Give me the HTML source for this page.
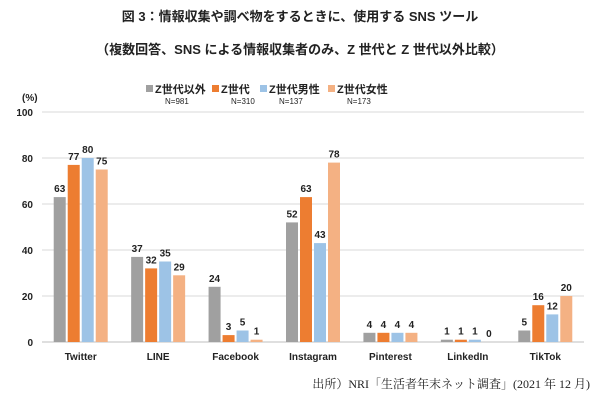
<!DOCTYPE html>
<html><head><meta charset="utf-8"><style>
body{margin:0;background:#fff;width:600px;height:404px;overflow:hidden}
svg text{font-family:"Liberation Sans","Noto Sans CJK JP",sans-serif}
</style></head><body>
<svg id="chart" width="600" height="404">
<text x="300" y="21" text-anchor="middle" font-size="13" font-weight="bold" fill="#222">図 3：情報収集や調べ物をするときに、使用する SNS ツール</text>
<text x="300" y="54" text-anchor="middle" font-size="13" font-weight="bold" fill="#222">（複数回答、SNS による情報収集者のみ、Z 世代と Z 世代以外比較）</text>
<text x="22" y="101" font-size="10" font-weight="bold" fill="#222">(%)</text>
<g id="grid"></g><g id="bars"></g><g id="legend"></g>
<text x="590" y="388" text-anchor="end" font-size="12" fill="#222" style="font-family:'Liberation Serif','Noto Serif CJK SC',serif">出所）NRI「生活者年末ネット調査」(2021 年 12 月)</text>
</svg>
<script>
const categories=["Twitter","LINE","Facebook","Instagram","Pinterest","LinkedIn","TikTok"];
const seriesNames=["Z世代以外","Z世代","Z世代男性","Z世代女性"];
const seriesN=["N=981","N=310","N=137","N=173"];
const nonZ=[63,37,24,52,4,1,5];
const genZ=[77,32,3,63,4,1,16];
const genZMale=[80,35,5,43,4,1,12];
const genZFemale=[75,29,1,78,4,0,20];
const yTicks=[0,20,40,60,80,100];
const series=[nonZ,genZ,genZMale,genZFemale];
const colors=["#a0a0a0","#ed7d31","#9dc3e6","#f4b183"];
const NS="http://www.w3.org/2000/svg";
const x0=42,x1=584,yTop=112,yBot=342;
const y=v=>yBot-(v/100)*(yBot-yTop);
const gw=(x1-x0)/categories.length,bw=12,gap=2;
function mk(t,a,p){const e=document.createElementNS(NS,t);for(const k in a)e.setAttribute(k,a[k]);p.appendChild(e);return e;}
const grid=document.getElementById('grid'),bars=document.getElementById('bars'),leg=document.getElementById('legend');
yTicks.forEach(t=>{
 const l=mk('line',{x1:x0,x2:x1,y1:y(t),y2:y(t),stroke:t===0?'#bfbfbf':'#d9d9d9','stroke-width':1},grid);
 
 
 const tx=mk('text',{x:33,y:y(t)+4,'text-anchor':'end','font-size':10,'font-weight':'bold',fill:'#222'},grid);
 tx.textContent=t;
 
 
});
categories.forEach((c,i)=>{
 const cx=x0+gw*(i+0.5);
 const start=cx-(4*bw+3*gap)/2;
 series.forEach((s,j)=>{
  const bx=start+j*(bw+gap);
  const r=mk('rect',{x:bx,y:y(s[i]),width:bw,height:yBot-y(s[i]),fill:colors[j]},bars);
  
  
  const t=mk('text',{x:bx+bw/2,y:y(s[i])-5,'text-anchor':'middle','font-size':10,'font-weight':'bold',fill:'#222'},bars);
  t.textContent=s[i];
  
  
 });
 const t=mk('text',{x:cx,y:360,'text-anchor':'middle','font-size':10,'font-weight':'bold',fill:'#222'},bars);
 t.textContent=c;
 
 
});
const lx=[146,212,260,328];
seriesNames.forEach((n,j)=>{
 const g=mk('g',{},leg);
 
 
 mk('rect',{x:lx[j],y:85,width:7,height:7,fill:colors[j]},g);
 const t=mk('text',{x:lx[j]+9,y:93,'font-size':11,'font-weight':'bold',fill:'#222'},g);t.textContent=n;
 const t2=mk('text',{x:lx[j]+19,y:104,'font-size':8,fill:'#222'},g);t2.textContent=seriesN[j];
});
</script>
</body></html>
